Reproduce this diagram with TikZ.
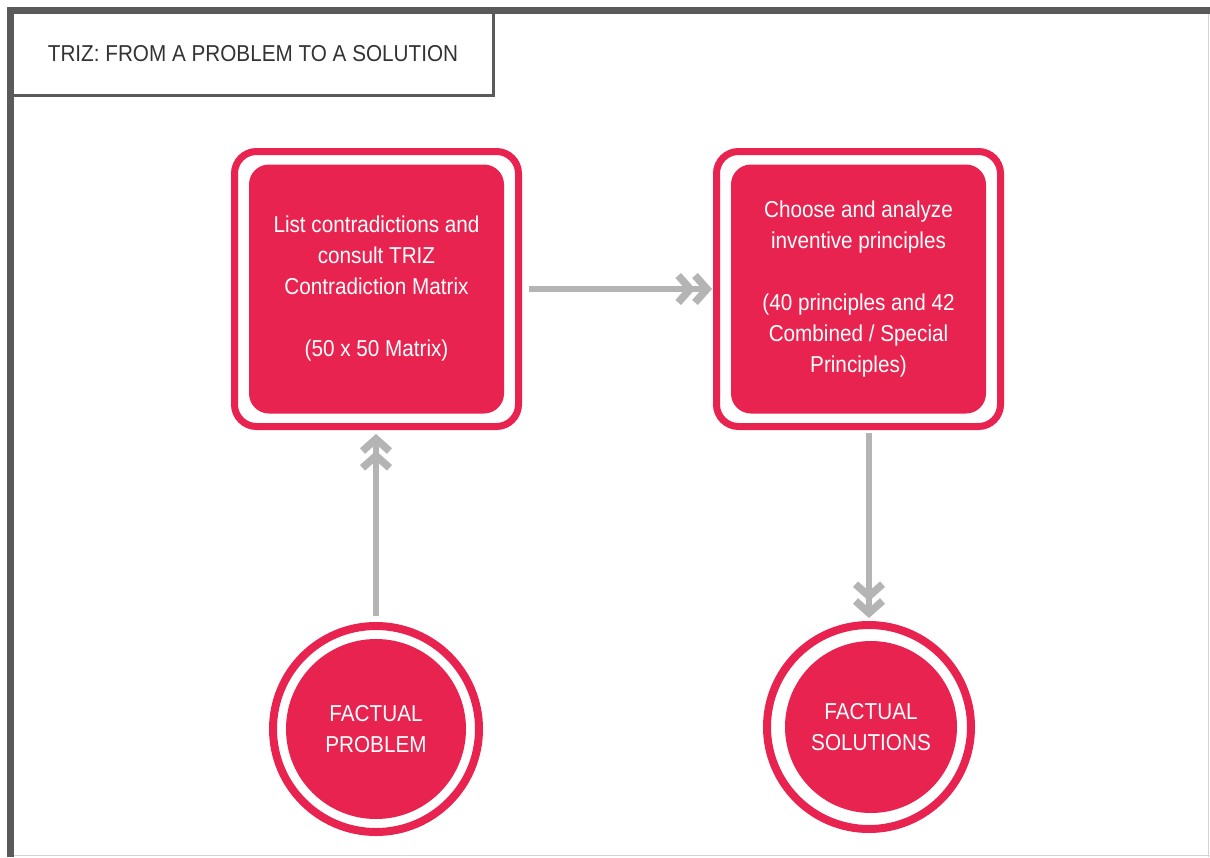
\documentclass[tikz,border=0pt]{standalone}
\usepackage{fontspec}
\setmainfont{Liberation Sans}[FakeStretch=0.9]
\usetikzlibrary{arrows.meta}
\definecolor{triz}{HTML}{E9234F}
\definecolor{arrowgray}{HTML}{B4B4B4}
\definecolor{framegray}{HTML}{5A5A5A}
\definecolor{edgegray}{HTML}{D4D4D4}
\definecolor{titletext}{HTML}{333333}

\begin{document}
\begin{tikzpicture}[x=1pt,y=-1pt,
  every node/.style={outer sep=0pt, inner sep=0pt, font=\fontsize{23}{31}\selectfont},
  titlebox/.style={draw=framegray, line width=2.5pt, minimum width=481pt, minimum height=83pt, text=titletext},
  ring/.style={draw=triz, line width=7pt, rounded corners=22pt, minimum width=284pt, minimum height=275pt},
  card/.style={fill=triz, rounded corners=20pt, minimum width=255pt, minimum height=249pt, text=white, align=center},
  halo/.style={circle, draw=triz, line width=8pt},
  disc/.style={circle, fill=triz, text=white, align=center},
  chev/.tip={Straight Barb[sharp, length=12pt, width=27pt, line width=7.5pt]},
  flow/.style={draw=arrowgray, line width=5.5pt, -{chev[sep=-4pt] chev}},
]
% page and its bounds
\fill[white] (0,0) rectangle (1210,857);
\useasboundingbox (0,0) rectangle (1210,857);

% title tab
\node[titlebox] (title) at (253,54) {TRIZ: FROM A PROBLEM TO A SOLUTION};

% frame
\fill[framegray] (7,7) rectangle (1210,14);
\fill[framegray] (7,7) rectangle (14,857);
\draw[edgegray, line width=1.5pt] (1208.5,14) -- (1208.5,857);
\draw[edgegray, line width=1.5pt] (14,855.5) -- (1210,855.5);

% step boxes
\node[ring] (b1) at (376.5,289) {};
\node[card] (b1text) at (b1) {List contradictions and\\consult TRIZ\\Contradiction Matrix\\[31pt](50 x 50 Matrix)};

\node[ring] (b2) at (858.5,289) {};
\node[card] (b2text) at (b2) {Choose and analyze\\inventive principles\\[31pt](40 principles and 42\\Combined / Special\\Principles)};

% start and end circles
\node[halo, minimum size=206pt] (c1) at (376,729) {};
\node[disc, minimum size=180pt] (c1text) at (376,729) {FACTUAL\\PROBLEM};

\node[halo, minimum size=204pt] (c2) at (869,727) {};
\node[disc, minimum size=172pt] (c2text) at (871,727) {FACTUAL\\SOLUTIONS};

% connectors
\draw[flow, shorten <=10.5pt, shorten >=4.5pt] (b1.east) -- (b2.west);
\draw[flow, shorten <=10pt, shorten >=7.5pt] (c1.north) -- (b1.south -| c1.center);
\draw[flow, shorten <=6.5pt, shorten >=7pt] (b2.south -| c2.center) -- (c2.north);
\end{tikzpicture}
\end{document}
